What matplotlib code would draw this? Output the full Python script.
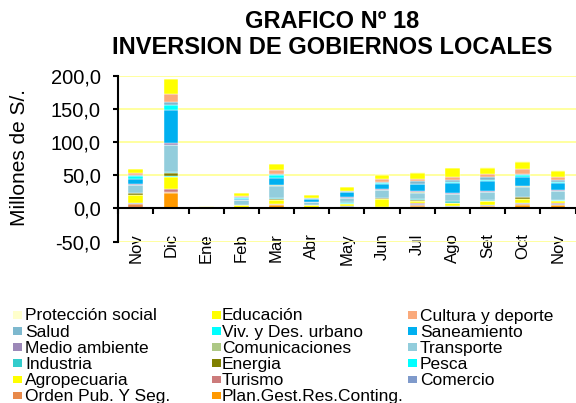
import numpy as np
import matplotlib
matplotlib.use("Agg")
import matplotlib.pyplot as plt
from matplotlib.patches import Rectangle
from matplotlib.ticker import FuncFormatter

plt.rcParams['font.family'] = ['Liberation Sans', 'DejaVu Sans']

meses = ["Nov", "Dic", "Ene", "Feb", "Mar", "Abr", "May", "Jun", "Jul", "Ago", "Set", "Oct", "Nov"]

# millones de S/. por funcion (orden de apilado: de abajo hacia arriba)
plan_gest     = [0.5, 23.5, 0, 0, 5, 0, 0, 1.5, 4, 1.5, 3, 5, 4.5]
orden_pub     = [6.5, 0.5, 0, 0.5, 1, 0.3, 0.5, 0.5, 1.3, 0.5, 0.7, 1.4, 1.0]
comercio      = [0.3, 0, 0, 0.3, 0.3, 0.3, 2.6, 0.3, 1, 1.2, 1, 1.1, 1.1]
turismo       = [0.7, 5, 0, 0.2, 0.5, 0.2, 0.3, 0.3, 1, 0.5, 0.5, 0.8, 0.8]
agropecuaria  = [12.5, 19, 0, 3.5, 6, 3.7, 3.7, 11, 4.2, 4.2, 5.3, 5.3, 4.0]
pesca         = [0.3, 1, 0, 0.2, 0.5, 0.2, 0.3, 0.3, 0.3, 0.3, 0.3, 0.5, 0.5]
energia       = [2, 5, 0, 0.2, 1.5, 0.2, 0.3, 1.5, 0.3, 0.3, 0.3, 2.6, 0.5]
industria     = [0.7, 1.5, 0, 0.5, 0.5, 0.3, 1.5, 0.5, 2, 2.6, 1.6, 1, 0.8]
transporte    = [11.5, 40, 0, 6.5, 19, 3.7, 6.4, 11.5, 9.5, 10, 11.7, 14.8, 12.2]
comunicacion  = [0.5, 0.5, 1.5, 0.3, 0.5, 0.2, 0.5, 0.5, 0.5, 0.8, 0.5, 0.8, 0.8]
medio_amb     = [0.5, 2.5, 0, 0.3, 0.8, 0.3, 0.5, 1, 2.6, 0.6, 1.0, 1.1, 1]
saneamiento   = [8.5, 50, 0, 2, 10.5, 4.2, 7.4, 8, 9.5, 15, 16, 12.2, 10.6]
vivienda      = [4, 7, 0, 1.5, 4.5, 0.5, 1, 1.5, 1, 2.6, 1, 3.7, 2.6]
salud         = [2.5, 5, 0, 1.5, 1, 1, 1, 2, 3.5, 2, 3.7, 2, 2]
cultura       = [2.5, 12.5, 0, 1.5, 5.5, 0.6, 0.5, 3.5, 3.7, 5, 5.8, 6.5, 5]
educacion     = [6, 21.5, 0, 3.5, 10, 3.7, 5.3, 6.4, 9.5, 13.8, 9, 11.7, 9.5]
proteccion    = [0.5, 0.5, 2, 0.5, 0.5, 0.5, 0.5, 0.5, 0.5, 0.5, 0.5, 0.5, 0.5]

series = [
    ("Plan.Gest.Res.Conting.", plan_gest),
    ("Orden Pub. Y Seg.", orden_pub),
    ("Comercio", comercio),
    ("Turismo", turismo),
    ("Agropecuaria", agropecuaria),
    ("Pesca", pesca),
    ("Energia", energia),
    ("Industria", industria),
    ("Transporte", transporte),
    ("Comunicaciones", comunicacion),
    ("Medio ambiente", medio_amb),
    ("Saneamiento", saneamiento),
    ("Viv. y Des. urbano", vivienda),
    ("Salud", salud),
    ("Cultura y deporte", cultura),
    ("Educación", educacion),
    ("Protección social", proteccion),
]

colores = {
    "Plan.Gest.Res.Conting.": "#FF9900",
    "Orden Pub. Y Seg.": "#E8894A",
    "Comercio": "#7F9ACB",
    "Turismo": "#CC7B7B",
    "Agropecuaria": "#FFFF00",
    "Pesca": "#00FFFF",
    "Energia": "#808000",
    "Industria": "#33CCCC",
    "Transporte": "#92CDDC",
    "Comunicaciones": "#ADC885",
    "Medio ambiente": "#9C88B8",
    "Saneamiento": "#00B0F0",
    "Viv. y Des. urbano": "#00FFFF",
    "Salud": "#7DB8CE",
    "Cultura y deporte": "#FAAA7C",
    "Educación": "#FFFF00",
    "Protección social": "#FFFFCC",
}

W, H = 576, 403
fig = plt.figure(figsize=(W / 100, H / 100), dpi=100)
ax = fig.add_axes([118.3 / W, 1 - 241.5 / H, (575.5 - 118.3) / W, (241.5 - 75.7) / H])

x = np.arange(len(meses))
bottom = np.zeros(len(meses))
for nombre, vals in series:
    v = np.array(vals, dtype=float)
    ax.bar(x, v, width=0.42, bottom=bottom, color=colores[nombre],
           edgecolor="white", linewidth=0.3, zorder=3)
    bottom += v

ax.set_xlim(-0.5, len(meses) - 0.5)
ax.set_ylim(-50, 200)
ax.set_yticks(np.arange(-50, 201, 50))
ax.yaxis.set_major_formatter(FuncFormatter(lambda v, _: f"{v:.1f}".replace(".", ",")))
ax.yaxis.grid(True, color="#FFFF99", linewidth=1.3, zorder=0)
ax.set_axisbelow(True)

for s in ["top", "right"]:
    ax.spines[s].set_visible(False)
ax.spines["left"].set_linewidth(1.5)
ax.spines["bottom"].set_position(("data", 0))
ax.spines["bottom"].set_linewidth(1.5)
ax.spines["bottom"].set_zorder(4)

ax.set_xticks(x)
ax.set_xticklabels(meses, rotation=90, va="top", fontsize=12)
ax.set_xticks(np.arange(-0.5, len(meses), 1), minor=True)
ax.tick_params(axis="x", which="major", length=0, pad=18)
ax.tick_params(axis="x", which="minor", length=4, width=1.5, direction="out")
ax.tick_params(axis="y", length=3.6, width=1.5, direction="out", labelsize=14.5, pad=9)

fig.text(20 / W, 1 - 158 / H, "Millones de S/.", rotation=90, ha="center", va="center", fontsize=15)

fig.text(332 / W, 1 - 21 / H, "GRAFICO Nº 18", ha="center", va="center", fontsize=17, fontweight="bold")
fig.text(332 / W, 1 - 47 / H, "INVERSION DE GOBIERNOS LOCALES", ha="center", va="center",
         fontsize=17, fontweight="bold")

# leyenda en 3 columnas, leida por filas
orden_leyenda = [n for n, _ in series][::-1]
col_handle = [12.7, 212, 407.5]
col_text = [25, 222, 420]
for i, nombre in enumerate(orden_leyenda):
    fila, col = divmod(i, 3)
    base = 320.5 + fila * 16.06
    fig.add_artist(Rectangle((col_handle[col] / W, 1 - (base - 1.7) / H), 9 / W, 7.5 / H,
                             transform=fig.transFigure, facecolor=colores[nombre],
                             edgecolor="none"))
    fig.text(col_text[col] / W, 1 - base / H, nombre, ha="left", va="baseline", fontsize=12.5)

fig.savefig("out.png", dpi=100)
